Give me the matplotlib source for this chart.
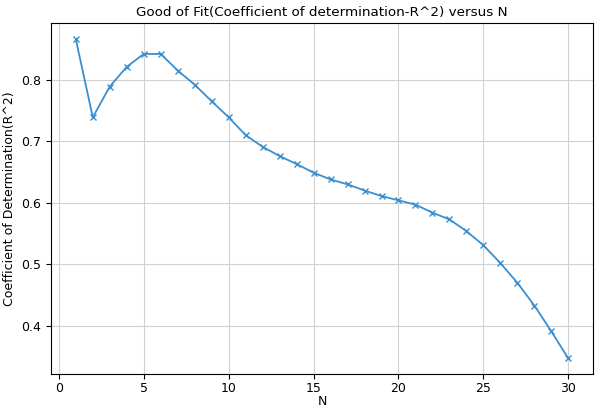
import matplotlib
matplotlib.use('Agg')
import matplotlib.pyplot as plt
import numpy as np


n_values = np.arange(1, 31)
r2_scores = np.array([0.866, 0.739, 0.789, 0.821, 0.842, 0.842, 0.815, 0.792, 0.765, 0.739,
                      0.710, 0.691, 0.676, 0.663, 0.649, 0.638, 0.630, 0.620, 0.611, 0.604,
                      0.597, 0.584, 0.573, 0.554, 0.531, 0.502, 0.470, 0.433, 0.391, 0.347])

fig, ax = plt.subplots(figsize=(6.02, 4.07), dpi=100)
ax.plot(n_values, r2_scores, marker='x', markersize=5, color='#3a8fd0', linewidth=1.3)
ax.set_title('Good of Fit(Coefficient of determination-R^2) versus N', fontsize=9.7, pad=5)
ax.set_xlabel('N', fontsize=9, labelpad=0)
ax.set_ylabel('Coefficient of Determination(R^2)', fontsize=9)
ax.tick_params(labelsize=9)
ax.tick_params(axis='x', pad=2)
ax.grid(True, color='#d0d0d0')
fig.subplots_adjust(left=0.085, right=0.985, top=0.943, bottom=0.08)
plt.savefig('out.png')
